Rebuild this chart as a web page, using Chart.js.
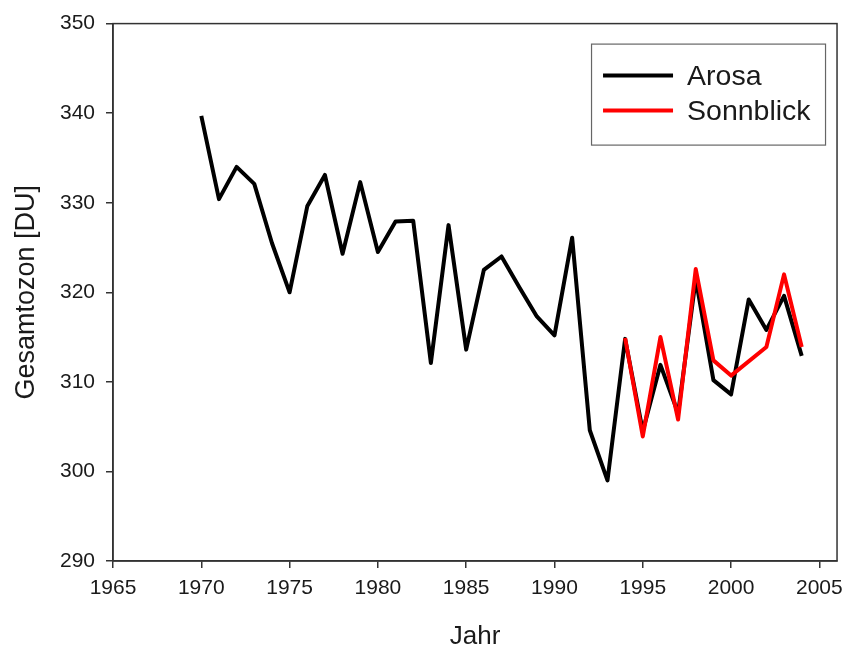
<!DOCTYPE html>
<html>
<head>
<meta charset="utf-8">
<script src="https://cdn.jsdelivr.net/npm/chart.js@4"></script>
<style>
  html, body { margin: 0; padding: 0; background: #fff; }
  #wrap { width: 851px; height: 652px; }
</style>
</head>
<body>
<div id="wrap"><canvas id="ozonChart" width="851" height="652"></canvas></div>
<script>
// Jahresmittel Gesamtozon
const years = [1970, 1971, 1972, 1973, 1974, 1975, 1976, 1977, 1978, 1979,
  1980, 1981, 1982, 1983, 1984, 1985, 1986, 1987, 1988, 1989,
  1990, 1991, 1992, 1993, 1994, 1995, 1996, 1997, 1998, 1999,
  2000, 2001, 2002, 2003, 2004];
const arosa = [339.7, 330.4, 334.0, 332.1, 325.5, 320.0, 329.6, 333.1, 324.3, 332.3,
  324.5, 327.9, 328.0, 312.1, 327.5, 313.6, 322.5, 324.0, 320.6, 317.3,
  315.2, 326.1, 304.6, 299.0, 314.8, 304.5, 311.9, 306.5, 321.5, 310.2,
  308.6, 319.2, 315.8, 319.6, 312.9];
const sonnblickYears = [1994, 1995, 1996, 1997, 1998, 1999, 2000, 2001, 2002, 2003, 2004];
const sonnblick = [314.9, 303.9, 315.0, 305.8, 322.6, 312.4, 310.7, null, 313.9, 322.0, 313.9];
const xTicks = [1965, 1970, 1975, 1980, 1985, 1990, 1995, 2000, 2005];
const yTicks = [290, 300, 310, 320, 330, 340, 350];

const font = "'Liberation Sans', Arial, sans-serif";

function toPoints(xs, ys) {
  return xs.map((x, i) => ({ x: x, y: ys[i] }));
}

// frame round the plot + legend box
const framePlugin = {
  id: "frame",
  afterDraw(chart) {
    const ctx = chart.ctx;
    const a = chart.chartArea;
    ctx.save();
    ctx.strokeStyle = "#333";
    ctx.lineWidth = 1.5;
    ctx.strokeRect(a.left, a.top, a.right - a.left, a.bottom - a.top);

    // legend
    const bx = a.right - 246, by = a.top + 20, bw = 234, bh = 101;
    ctx.fillStyle = "#fff";
    ctx.fillRect(bx, by, bw, bh);
    ctx.strokeStyle = "#666";
    ctx.lineWidth = 1.2;
    ctx.strokeRect(bx + 0.5, by + 0.5, bw, bh);
    const items = chart.data.datasets;
    ctx.font = "28.5px " + font;
    ctx.textBaseline = "middle";
    items.forEach((ds, i) => {
      const y = by + 32 + i * 35;
      ctx.strokeStyle = ds.borderColor;
      ctx.lineWidth = 4;
      ctx.beginPath();
      ctx.moveTo(bx + 12, y);
      ctx.lineTo(bx + 82, y);
      ctx.stroke();
      ctx.fillStyle = "#1a1a1a";
      ctx.fillText(ds.label, bx + 96, y + 2);
    });
    ctx.restore();
  }
};

new Chart(document.getElementById("ozonChart").getContext("2d"), {
  type: "line",
  data: {
    datasets: [
      {
        label: "Arosa",
        data: toPoints(years, arosa),
        borderColor: "#000000",
        borderWidth: 4,
        borderJoinStyle: "round",
        pointRadius: 0,
        tension: 0,
        order: 1
      },
      {
        label: "Sonnblick",
        data: toPoints(sonnblickYears, sonnblick),
        borderColor: "#ff0000",
        borderWidth: 4,
        borderJoinStyle: "round",
        pointRadius: 0,
        tension: 0,
        spanGaps: true,
        order: 0
      }
    ]
  },
  options: {
    responsive: false,
    animation: false,
    layout: { padding: { top: 23, right: 11, left: 0, bottom: 0 } },
    plugins: {
      legend: { display: false },
      tooltip: { enabled: false }
    },
    scales: {
      x: {
        type: "linear",
        min: 1965,
        max: 2006,
        afterFit(scale) { scale.height = 91; },
        afterBuildTicks(scale) { scale.ticks = xTicks.map(v => ({ value: v })); },
        grid: { drawOnChartArea: false, drawTicks: true, tickLength: 7, color: "#333", lineWidth: 1.5 },
        border: { color: "#333", width: 1.5 },
        ticks: {
          color: "#1a1a1a", font: { family: font, size: 21 }, padding: 8, maxRotation: 0,
          callback: v => String(v)
        },
        title: { display: true, text: "Jahr", color: "#1a1a1a", font: { family: font, size: 26 }, padding: { top: 0, bottom: 0 } }
      },
      y: {
        min: 290,
        max: 350,
        afterFit(scale) { scale.width = 113; },
        afterBuildTicks(scale) { scale.ticks = yTicks.map(v => ({ value: v })); },
        grid: { drawOnChartArea: false, drawTicks: true, tickLength: 7, color: "#333", lineWidth: 1.5 },
        border: { color: "#333", width: 1.5 },
        ticks: { color: "#1a1a1a", font: { family: font, size: 21 }, padding: 11, callback: v => String(v) },
        title: { display: true, text: "Gesamtozon [DU]", color: "#1a1a1a", font: { family: font, size: 27 }, padding: { top: 10, bottom: 0 } }
      }
    }
  },
  plugins: [framePlugin]
});
</script>
</body>
</html>
